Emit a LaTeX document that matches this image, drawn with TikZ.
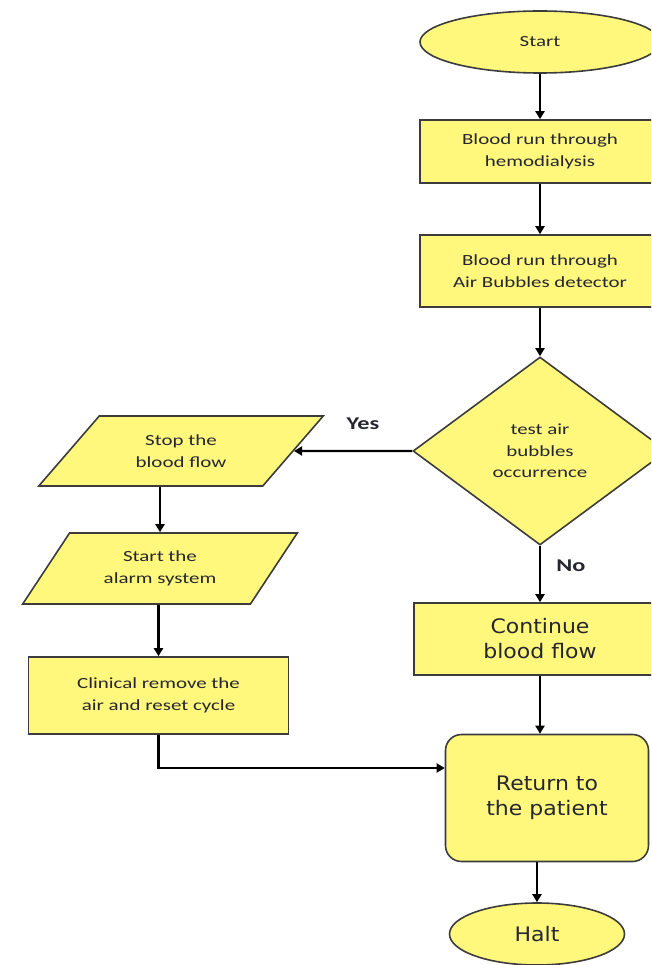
\documentclass[tikz,border=0pt]{standalone}
\usepackage{fontspec}
\setmainfont{Carlito}[FakeStretch=1.35]
\newfontfamily\wideFont{DejaVu Sans}[FakeStretch=1.1]
\usetikzlibrary{positioning,shapes.geometric,arrows.meta}
\definecolor{boxYellow}{RGB}{255,248,125}
\definecolor{edgeGray}{RGB}{60,60,60}
\definecolor{inkGray}{RGB}{38,38,48}

\begin{document}
\begin{tikzpicture}[x=1pt, y=-1pt,
  flowbox/.style={draw=edgeGray, fill=boxYellow, line width=1.6pt, align=center, text=inkGray, font=\fontsize{15.5}{21.5}\selectfont, inner sep=0pt},
  bigtext/.style={font=\wideFont\fontsize{20}{25}\selectfont},
  flowarrow/.style={-{Triangle[width=9pt,length=8pt]}, line width=2.2pt},
  answer/.style={text=inkGray, font=\bfseries\fontsize{18}{20}\selectfont}]
\clip (0,0) rectangle (651,965);
\node[flowbox, shape=ellipse, minimum width=240pt, minimum height=62pt] (start) at (540,42) {Start};
\node[flowbox, shape=rectangle, minimum width=240pt, minimum height=63pt, below of=start, node distance=109.5pt] (hemo) {Blood run through\\hemodialysis};
\node[flowbox, shape=rectangle, minimum width=240pt, minimum height=72pt, below of=hemo, node distance=119.5pt] (detect) {Blood run through\\Air Bubbles detector};
\node[flowbox, shape=diamond, minimum width=254pt, minimum height=188pt, below of=detect, node distance=180pt] (test) {test air\\bubbles\\occurrence};
\node[flowbox, bigtext, shape=rectangle, minimum width=252pt, minimum height=72pt, below of=test, node distance=188pt] (cont) {Continue\\blood flow};
\node[flowbox, bigtext, shape=rectangle, rounded corners=16pt, minimum width=203pt, minimum height=127pt, below of=cont, node distance=159pt, xshift=7pt] (ret) {Return to\\the patient};
\node[flowbox, bigtext, shape=ellipse, minimum width=175pt, minimum height=62pt, below of=ret, node distance=136pt, xshift=-10pt] (halt) {Halt};
\node[flowbox, shape=trapezium, trapezium left angle=44, trapezium right angle=136, trapezium stretches=true, minimum width=285pt, minimum height=70pt, left of=test, node distance=359pt] (stop) {Stop the\\blood flow};
\node[flowbox, shape=trapezium, trapezium left angle=50, trapezium right angle=130, trapezium stretches=true, minimum width=275pt, minimum height=71pt, below of=stop, node distance=117.5pt, xshift=-21pt] (alarm) {Start the\\alarm system};
\node[flowbox, shape=rectangle, minimum width=260pt, minimum height=77pt, below of=alarm, node distance=127pt, xshift=-1.5pt] (clinical) {Clinical remove the\\air and reset cycle};
\node[answer] (yes) at (363,424) {Yes};
\node[answer] (no) at (571,566) {No};
\draw[flowarrow] (start.south) -- (hemo.north);
\draw[flowarrow] (hemo.south) -- (detect.north);
\draw[flowarrow] (detect.south) -- (test.north);
\draw[flowarrow] (test.west) -- (stop.east);
\draw[flowarrow] (test.south) -- (cont.north);
\draw[flowarrow] (cont.south) -- (cont.south |- ret.north);
\draw[flowarrow] (halt.north |- ret.south) -- (halt.north);
\draw[flowarrow] (stop.south -| alarm.north) -- (alarm.north);
\draw[flowarrow] (alarm.south -| clinical.north) -- (clinical.north);
\draw[flowarrow] (clinical.south) |- ([yshift=30pt]ret.west);
\end{tikzpicture}
\end{document}
